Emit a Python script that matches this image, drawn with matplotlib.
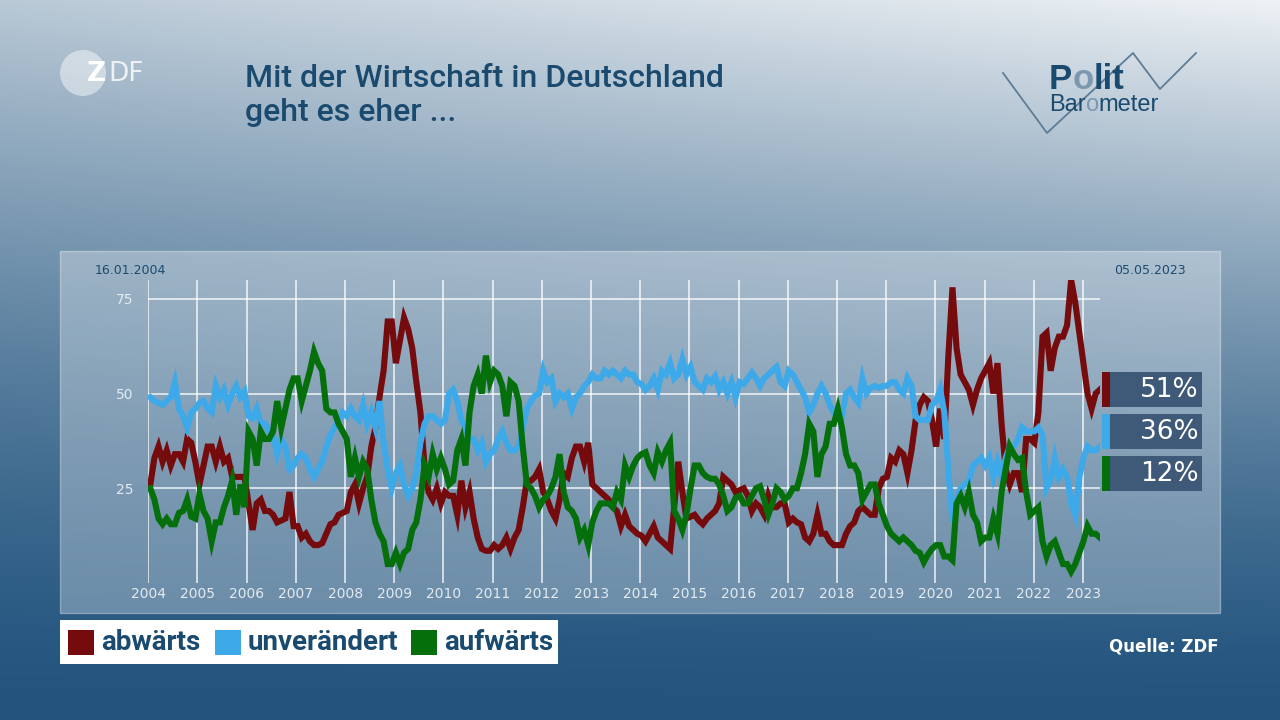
import numpy as np
import pandas as pd
import matplotlib
matplotlib.use("Agg")
import matplotlib.pyplot as plt
from matplotlib.patches import Rectangle, Circle

# ---------- data: Politbarometer, monthly, 16.01.2004 - 05.05.2023 ----------
START = "16.01.2004"
END = "05.05.2023"
series_names = ["abwärts", "unverändert", "aufwärts"]

abwaerts = [
    26, 33, 36, 32, 35, 31, 34, 34, 32, 38, 37, 32,          # 2004
    26, 31, 36, 36, 32, 36, 32, 33, 28, 28, 28, 28,          # 2005
    21, 14, 21, 22, 19, 19, 18, 16, 16.5, 17, 24, 15,        # 2006
    15, 12, 13, 11, 10, 10, 10.5, 13, 15.5, 16, 18, 18.5,    # 2007
    19, 24, 26, 21, 25, 28, 36, 41, 49, 56, 69, 69,          # 2008
    58, 64, 70, 67, 62, 53, 45, 31, 24, 22, 25, 21,          # 2009
    24, 23, 23, 18, 27, 20, 24, 17, 12, 9, 8.5, 8.5,         # 2010
    10, 9, 10, 12, 9, 12, 14, 20, 27, 27, 28, 30,            # 2011
    24, 22, 19, 17, 22, 29, 28, 33, 36, 36, 32, 37,          # 2012
    26, 25, 24, 23, 22, 20, 19, 15, 18, 15, 14, 13,          # 2013
    12.5, 11, 13, 15, 12, 11, 10, 9, 20, 32, 24, 17,         # 2014
    17.5, 18, 16.5, 15.5, 17, 18, 19, 21, 28, 27, 26, 24,    # 2015
    24.5, 25, 23, 19, 21, 20, 18, 23, 20, 20, 21, 21,        # 2016
    16, 17, 16, 15.5, 12, 11, 13, 18, 13, 13, 11, 10,        # 2017
    10, 10, 13, 15, 16, 19, 20, 19, 18, 18, 25, 27.5,        # 2018
    28, 33, 32, 35, 34, 29, 35, 43, 47, 49, 48, 43,          # 2019
    36, 46, 38, 60, 78, 62, 55, 53, 51, 47, 51, 54,          # 2020
    56, 58, 50, 58, 42, 30, 26, 29, 29, 24, 38, 38,          # 2021
    37, 45, 65, 66, 56, 62, 65, 65, 68, 80, 74, 66,          # 2022
    58, 50, 46, 50, 51,                                      # 2023
]

unveraendert = [
    49, 48, 47.5, 47, 48, 49, 53, 46, 44, 41, 45, 46,
    47.5, 48, 46, 45, 52, 49, 51, 47, 50, 52, 49, 50.5,
    44, 43.5, 46, 42, 42, 40, 39, 34, 38, 36, 30, 31,
    33, 34, 33, 30, 28, 30, 32, 36, 39, 41, 43, 45,
    44, 46, 44, 43, 47, 42, 45, 41, 48, 37, 30, 25,
    29, 31, 26, 23, 25, 29, 37, 42, 44, 44, 43, 42,
    43, 50, 51, 48, 43, 41, 38, 38, 35, 37, 32, 34,
    35, 38, 40, 37, 35, 35, 36, 41, 46, 48, 49.5, 50,
    56, 53, 54, 48, 50, 49, 50, 46, 49, 50, 52, 53,
    55, 54, 54, 56, 55, 56, 55, 54, 56, 55, 55, 53,
    52.5, 51, 52, 54, 51, 56, 55, 58, 54, 55, 59, 55,
    57, 53, 52, 51, 54, 53, 54.5, 51, 53, 50, 53, 49,
    53, 52.5, 54, 55.5, 54, 52, 54, 55, 56, 57, 53, 52,
    56, 55, 53, 51, 49, 45, 47, 50, 52, 50, 47, 45,
    45, 44, 50, 51, 49, 47.5, 54, 50, 51.5, 52, 51.5, 52,
    52, 53, 53, 51, 50, 54, 52, 44, 43, 43, 43, 47,
    48, 51, 45, 30, 16, 22, 25, 26, 27, 31, 32, 33,
    31, 33, 28, 32, 28, 33, 36, 36, 38, 41, 40, 40,
    40, 41, 39, 25, 27, 33, 28, 30, 28, 21, 18, 28,
    33, 36, 35, 35, 36,
]

aufwaerts = [
    25, 22, 17, 15.5, 17, 15.5, 15.5, 18.5, 19, 22, 17.5, 17,
    23.5, 19, 17, 11, 16, 16, 20, 23, 27, 18, 26, 20,
    40, 38, 31, 40, 38, 38, 40, 48, 41, 46, 51, 54,
    54, 48, 52, 56, 61, 58, 56, 46, 45, 45, 42, 40,
    38, 28, 33, 28, 32, 30, 22, 16, 13, 11, 5, 5,
    8, 5, 8, 9, 14, 16, 22, 31, 28, 34, 30, 33,
    30, 26, 27, 35, 38, 31, 45, 52, 55, 50, 60, 53,
    56, 55, 52, 44, 53, 52, 48, 36, 26, 25, 23, 20,
    22, 23, 25, 28, 34, 24, 20, 19, 17, 12, 14, 10,
    16, 19, 21, 21, 21, 20, 24, 22, 31, 28, 31, 33,
    34, 34.5, 31, 29, 34.5, 32, 35, 37, 19, 17, 14, 18,
    25, 31, 31, 29, 28, 27.5, 27.5, 26, 23, 19, 20, 22.5,
    23, 21, 21, 23, 25, 25.5, 22, 18, 21, 25, 24, 22,
    23, 25, 25, 29, 34, 42, 40, 28, 34, 36, 42, 42,
    46, 41, 34, 31, 31, 29, 22, 24, 26, 26, 21, 18,
    15, 13, 12, 11, 12, 11, 10, 8.5, 8, 5.5, 7.5, 9,
    10, 10, 7, 7, 6, 21, 23, 20, 24, 18, 16, 11,
    12, 12, 17, 13, 24, 30, 36, 34, 32.5, 33, 24, 18,
    19, 20, 11, 7, 10, 11, 8, 5, 5, 3, 5, 8,
    11, 15, 13, 13, 12,
]

year_ticks = list(range(2004, 2024))
value_ticks = [25, 50, 75]

# ---------- palette ----------
RED = "#760b0d"
BLUE = "#3ea9e8"
GREEN = "#05700b"
INK = "#1b4a6f"
LIGHT_O = "#7b98b0"
BOX = "#3e5a78"
TICK = "#e3eaf0"


def dec_year(s):
    d = pd.to_datetime(s, dayfirst=True)
    return d.year + (d.dayofyear - 1) / (366 if d.is_leap_year else 365)


x = np.linspace(dec_year(START), dec_year(END), len(abwaerts))

W, H = 1280, 720
fig = plt.figure(figsize=(W / 100, H / 100), dpi=100)
renderer = fig.canvas.get_renderer()

# ---------- background gradient ----------
bg = fig.add_axes([0, 0, 1, 1])
bg.set_xlim(0, W)
bg.set_ylim(H, 0)
bg.axis("off")
u = np.linspace(0, 1, W)[None, :]
v = np.linspace(0, 1, H)[:, None]
s = np.clip((1 - v) ** 1.45 * (0.74 + 0.26 * u), 0, 1)
dark = np.array([34, 84, 126]) / 255
light = np.array([238, 242, 245]) / 255
grad = dark + s[..., None] * (light - dark)
bg.imshow(grad, extent=(0, W, H, 0), aspect="auto", zorder=0)

# chart panel
bg.add_patch(Rectangle((60, 251), 1160, 362, facecolor=(1, 1, 1, 0.30),
                       edgecolor=(1, 1, 1, 0.35), linewidth=1, zorder=1))


def ink_width(txt, **kw):
    t = bg.text(0, 0, txt, **kw)
    w = t.get_window_extent(renderer).width
    t.remove()
    return w


# ZDF logo
bg.add_patch(Circle((83, 73), 23, facecolor=(1, 1, 1, 0.45), edgecolor="none", zorder=2))
z_kw = dict(fontsize=19, fontweight="bold", family="DejaVu Sans")
bg.text(87, 74, "Z", color="white", va="center", ha="left", zorder=3, **z_kw)
bg.text(87 + ink_width("Z", **z_kw) + 2, 74, "DF", color=(1, 1, 1, 0.8), fontsize=19,
        family="DejaVu Sans", va="center", ha="left", zorder=3)

# title
bg.text(245, 87, "Mit der Wirtschaft in Deutschland", color=INK, fontsize=23,
        fontweight="medium", family="Roboto", va="baseline", ha="left")
bg.text(245, 121, "geht es eher ...", color=INK, fontsize=23,
        fontweight="medium", family="Roboto", va="baseline", ha="left")

# Politbarometer logo
bg.plot([1003, 1047, 1133, 1160, 1196], [73, 133, 53, 89, 53],
        color="#5d7c96", linewidth=1.3, zorder=2)


def two_tone(x0, y0, head, mid, tail, **kw):
    # head + tail in ink, the middle letter in a lighter blue
    full = head + mid + tail
    wf = ink_width(full, **kw)
    x_mid = x0 + wf - ink_width(mid + tail, **kw)
    x_tail = x0 + wf - ink_width(tail, **kw)
    for txt, xx, col in [(head, x0, INK), (mid, x_mid, LIGHT_O), (tail, x_tail, INK)]:
        bg.text(xx, y0, txt, color=col, va="baseline", ha="left", zorder=3, **kw)


two_tone(1049, 89, "P", "o", "lit", fontsize=25, fontweight="bold", family="Liberation Sans")
two_tone(1049, 111, "Bar", "o", "meter", fontsize=17, family="Liberation Sans")

# ---------- chart ----------
ax = fig.add_axes([148.3 / W, 1 - 583 / H, 952 / W, 303.2 / H])
ax.set_facecolor("none")
ax.set_xlim(2004, 2023.35)
ax.set_ylim(0, 80)
for sp in ax.spines.values():
    sp.set_visible(False)
ax.set_xticks(year_ticks)
ax.set_xticklabels([str(y) for y in year_ticks])
ax.set_yticks(value_ticks)
ax.tick_params(length=0, colors=TICK, labelsize=10)
ax.tick_params(axis="x", pad=3)
ax.tick_params(axis="y", pad=11)
ax.grid(True, color="white", alpha=0.75, linewidth=1.3)
ax.set_axisbelow(True)

series = [abwaerts, unveraendert, aufwaerts]
colors = [RED, BLUE, GREEN]
for vals, col in zip(series, colors):
    ax.plot(x, vals, color=col, linewidth=4.4, solid_joinstyle="miter", zorder=3)

bg.text(95, 270, START, color=INK, fontsize=9, va="center", ha="left")
bg.text(1114, 270, END, color=INK, fontsize=9, va="center", ha="left")

# end-value boxes
for i, (vals, col) in enumerate(zip(series, colors)):
    top = 372 + i * 42
    bg.add_patch(Rectangle((1110, top), 92, 34.5, facecolor=BOX, edgecolor="none", zorder=2))
    bg.add_patch(Rectangle((1102, top), 8, 34.5, facecolor=col, edgecolor="none", zorder=2))
    bg.text(1199, top + 18, f"{vals[-1]:.0f}%", color="white", fontsize=19,
            va="center", ha="right", zorder=3)

# legend
bg.add_patch(Rectangle((60, 620), 498, 44, facecolor="white", edgecolor="none", zorder=2))
leg_x = [68, 215, 411]
for lx, name, col in zip(leg_x, series_names, colors):
    bg.add_patch(Rectangle((lx, 630), 26, 25, facecolor=col, edgecolor="none", zorder=3))
    bg.text(lx + 33, 643, name, color=INK, fontsize=20, fontweight="bold",
            family="Roboto", va="center", ha="left", zorder=3)

bg.text(1219, 647, "Quelle: ZDF", color="white", fontsize=12, fontweight="bold",
        va="center", ha="right")

fig.savefig("out.png", dpi=100)
